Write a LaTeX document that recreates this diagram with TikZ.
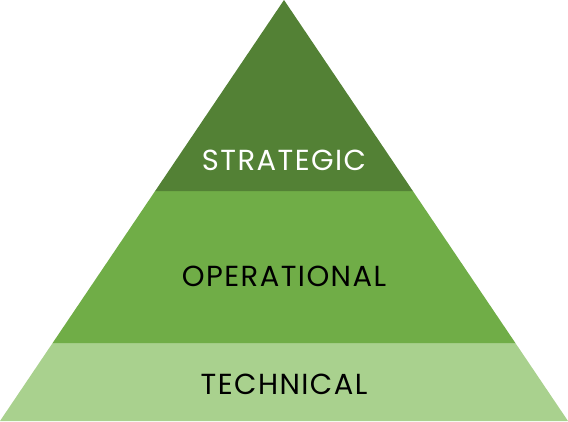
\documentclass[tikz,border=0pt]{standalone}
\usepackage{xcolor}
\usepackage{tikz}
\usetikzlibrary{calc}
\usepackage{fontspec}
\setmainfont{Poppins}[LetterSpace=5]
\definecolor{stratgreen}{HTML}{538135}
\definecolor{opgreen}{HTML}{70AD47}
\definecolor{techgreen}{HTML}{A9D18E}
\tikzstyle{layer}=[font=\fontsize{29}{33}\selectfont,inner sep=0pt]

\begin{document}
\begin{tikzpicture}[x=1pt,y=-1pt]
					\useasboundingbox (0,0) rectangle (568,421);
					\coordinate (apex) at (284,0);
					\coordinate (bl) at (0,421);
					\coordinate (br) at (568,421);
					\fill [techgreen] (bl) -- (br) -- ($(apex)!343/421!(br)$) -- ($(apex)!343/421!(bl)$) -- cycle;
					\fill [opgreen] ($(apex)!343/421!(bl)$) -- ($(apex)!343/421!(br)$) -- ($(apex)!191/421!(br)$) -- ($(apex)!191/421!(bl)$) -- cycle;
					\fill [stratgreen] (apex) -- ($(apex)!191/421!(br)$) -- ($(apex)!191/421!(bl)$) -- cycle;
					\node [layer,text=white] (strategic) at (284,160) {STRATEGIC};
					\node [layer] (operational) at (284,276) {OPERATIONAL};
					\node [layer] (technical) at (284,384) {TECHNICAL};
					\end{tikzpicture}
\end{document}
